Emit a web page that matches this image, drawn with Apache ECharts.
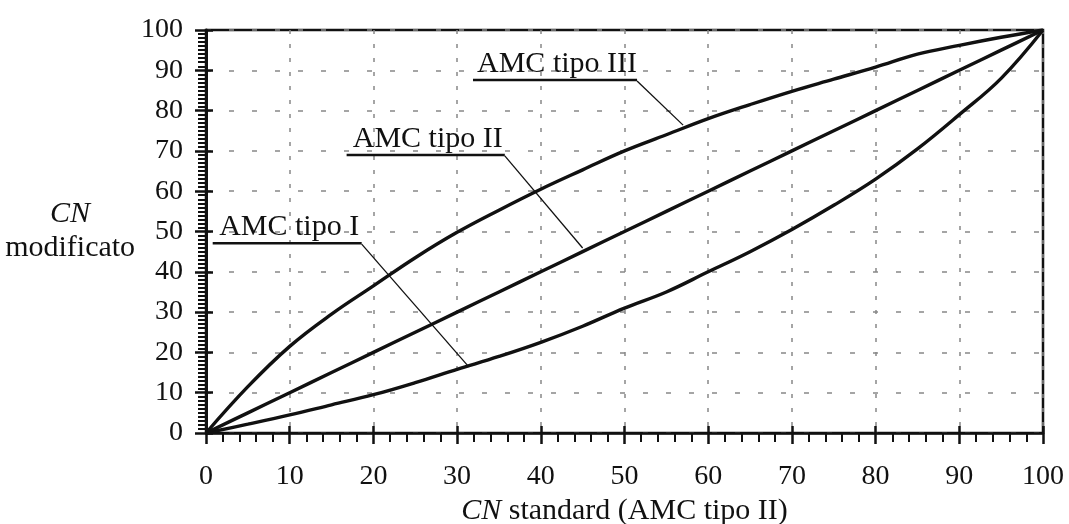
<!DOCTYPE html>
<html>
<head>
<meta charset="utf-8">
<script src="https://cdn.jsdelivr.net/npm/echarts@6/dist/echarts.min.js"></script>
<style>
	html, body { margin: 0; padding: 0; background: #fff; }
	#chart { width: 1069px; height: 524px; }
</style>
</head>
<body>
<div id="chart"></div>
<script>
// CN standard (AMC tipo II) on x, CN modificato on y
var cnStandard = [0, 5, 10, 15, 20, 25, 30, 35, 40, 45, 50, 55, 60, 65, 70, 75, 80, 85, 90, 95, 100];
var amcTipoI   = [0, 2.2, 4.5, 7, 9.5, 12.5, 15.8, 19, 22.5, 26.5, 31, 35, 40, 45, 50.5, 56.5, 63, 70.5, 79, 88, 100];
var amcTipoII  = [0, 5, 10, 15, 20, 25, 30, 35, 40, 45, 50, 55, 60, 65, 70, 75, 80, 85, 90, 95, 100];
var amcTipoIII = [0, 11.5, 21.5, 29.5, 36.5, 43.5, 49.8, 55.3, 60.5, 65.3, 70, 74, 78, 81.5, 84.8, 87.8, 90.8, 94, 96.2, 98.2, 100];

var xTicks = [0, 10, 20, 30, 40, 50, 60, 70, 80, 90, 100];

// annotation labels: underline [x1, x2, y] and leader end [x, y], in data units
var labelNames = ['AMC tipo I', 'AMC tipo II', 'AMC tipo III'];
var labelUnder = [[0.8, 18.6, 47.1], [16.8, 35.7, 69], [31.9, 51.5, 87.6]];
var labelLeader = [[31.4, 16.4], [45, 45.9], [57, 76.4]];

var FONT = 'Liberation Serif';

function pairs(xs, ys) {
	var out = [], i;
	for (i = 0; i < xs.length; i++) {
		out.push([xs[i], ys[i]]);
	}
	return out;
}

function curve(name, ys) {
	return {
		name: name,
		type: 'line',
		xAxisIndex: 0,
		yAxisIndex: 0,
		data: pairs(cnStandard, ys),
		smooth: 0.4,
		symbol: 'none',
		lineStyle: { color: '#111', width: 3.4 },
		silent: true
	};
}

var chart = echarts.init(document.getElementById('chart'), null, { renderer: 'canvas' });

var option = {
	animation: false,
	backgroundColor: '#fff',
	grid: {
		left: 206, right: 26, top: 30, bottom: 91,
		show: true,
		borderColor: '#111',
		borderWidth: 2.5,
		containLabel: false,
		outerBoundsMode: 'none'
	},
	xAxis: [{
		type: 'value',
		min: 0, max: 100, interval: 10,
		position: 'bottom',
		name: '{i|CN} standard (AMC tipo II)',
		nameLocation: 'middle',
		nameGap: 75,
		nameTextStyle: {
			fontFamily: FONT, fontSize: 30, color: '#111', verticalAlign: 'middle',
			rich: { i: { fontFamily: FONT, fontSize: 30, fontStyle: 'italic', color: '#111' } }
		},
		axisLine: { show: true, onZero: false, lineStyle: { color: '#111', width: 2.5 } },
		axisTick: { show: true, inside: false, length: 11, lineStyle: { color: '#111', width: 2.5 } },
		minorTick: { show: true, splitNumber: 5, length: 9, lineStyle: { color: '#111', width: 2 } },
		axisLabel: {
			fontFamily: FONT, fontSize: 28, color: '#111', margin: 30,
			customValues: xTicks
		},
		splitLine: { show: true, lineStyle: { color: '#888', width: 1.5, type: [4, 10] } }
	}, {
		// short inner stubs so the major ticks cross the axis line
		type: 'value',
		min: 0, max: 100, interval: 10,
		position: 'bottom',
		axisLine: { show: false, onZero: false },
		axisTick: { show: true, inside: true, length: 7, lineStyle: { color: '#111', width: 2.5 } },
		axisLabel: { show: false },
		splitLine: { show: false }
	}],
	yAxis: [{
		type: 'value',
		min: 0, max: 100, interval: 10,
		position: 'left',
		name: '{i|CN}\nmodificato',
		nameLocation: 'middle',
		nameRotate: 0,
		nameGap: 131,
		nameTextStyle: {
			fontFamily: FONT, fontSize: 30, color: '#111',
			align: 'center', verticalAlign: 'middle', lineHeight: 34,
			rich: { i: { fontFamily: FONT, fontSize: 30, fontStyle: 'italic', color: '#111', lineHeight: 34 } }
		},
		axisLine: { show: true, onZero: false, lineStyle: { color: '#111', width: 3 } },
		axisTick: { show: true, inside: false, length: 11, lineStyle: { color: '#111', width: 2.5 } },
		minorTick: { show: true, splitNumber: 10, length: 8, lineStyle: { color: '#111', width: 2 } },
		axisLabel: { fontFamily: FONT, fontSize: 28, color: '#111', margin: 23 },
		splitLine: { show: true, lineStyle: { color: '#888', width: 1.5, type: [5, 18] } }
	}, {
		type: 'value',
		min: 0, max: 100, interval: 10,
		position: 'left',
		axisLine: { show: false, onZero: false },
		axisTick: { show: true, inside: true, length: 7, lineStyle: { color: '#111', width: 2.5 } },
		axisLabel: { show: false },
		splitLine: { show: false }
	}],
	series: [
		curve('AMC tipo I', amcTipoI),
		curve('AMC tipo II', amcTipoII),
		curve('AMC tipo III', amcTipoIII)
	]
};

chart.setOption(option);

// labels with underline and leader line, placed through the grid's scales
function toPx(x, y) {
	return chart.convertToPixel({ gridIndex: 0 }, [x, y]);
}

var graphics = [], i, a, b, e;
for (i = 0; i < labelNames.length; i++) {
	a = toPx(labelUnder[i][0], labelUnder[i][2]);
	b = toPx(labelUnder[i][1], labelUnder[i][2]);
	e = toPx(labelLeader[i][0], labelLeader[i][1]);
	graphics.push({
		type: 'text',
		x: (a[0] + b[0]) / 2 + 2,
		y: a[1] - 1,
		style: {
			text: labelNames[i],
			fontFamily: FONT, fontSize: 30, fill: '#111',
			textAlign: 'center', textVerticalAlign: 'bottom'
		},
		z: 10
	});
	graphics.push({
		type: 'line',
		shape: { x1: a[0], y1: a[1], x2: b[0], y2: b[1] },
		style: { stroke: '#111', lineWidth: 2.5 },
		z: 10
	});
	graphics.push({
		type: 'line',
		shape: { x1: b[0], y1: b[1] + 1, x2: e[0], y2: e[1] },
		style: { stroke: '#111', lineWidth: 1.3 },
		z: 10
	});
}

chart.setOption({ graphic: graphics });
</script>
</body>
</html>
